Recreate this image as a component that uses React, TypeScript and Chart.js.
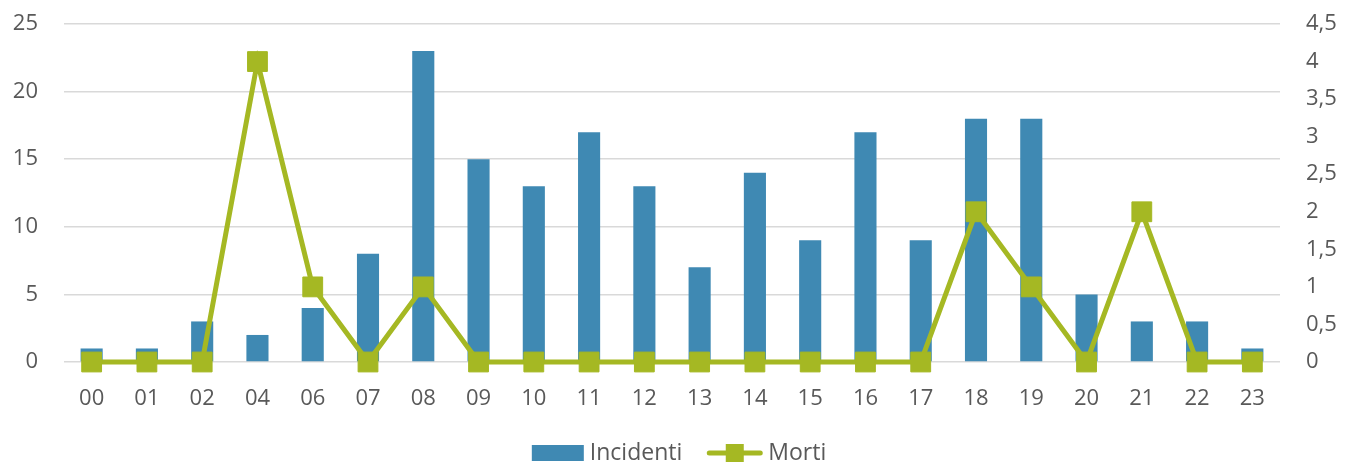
import React, { useEffect, useRef } from "react";
import { Chart, registerables } from "chart.js";

Chart.register(...registerables);

const categories = ["00", "01", "02", "04", "06", "07", "08", "09", "10", "11", "12", "13", "14", "15", "16", "17", "18", "19", "20", "21", "22", "23"];
const incidenti = [1, 1, 3, 2, 4, 8, 23, 15, 13, 17, 13, 7, 14, 9, 17, 9, 18, 18, 5, 3, 3, 1];
const morti = [0, 0, 0, 4, 1, 0, 1, 0, 0, 0, 0, 0, 0, 0, 0, 0, 2, 1, 0, 2, 0, 0];

const BLUE = "#3F89B3";
const GREEN = "#A5B823";
const TEXT = "#595959";
const FONT = "'Open Sans', sans-serif";
const FS = 22;
const LFS = 23;

const legendPlugin = {
  id: "customLegend",
  afterDraw(chart: any) {
    const ctx = chart.ctx;
    const cy = 453;
    ctx.save();
    ctx.font = `${LFS}px ${FONT}`;
    ctx.fillStyle = TEXT;
    ctx.textBaseline = "middle";
    const l0 = chart.data.datasets[0].label;
    const l1 = chart.data.datasets[1].label;
    const w0 = ctx.measureText(l0).width;
    const w1 = ctx.measureText(l1).width;
    const boxW = 52, gap = 6, sep = 25, lineW = 55;
    const total = boxW + gap + w0 + sep + lineW + gap + w1;
    let x = 679 - total / 2;
    ctx.fillStyle = BLUE;
    ctx.fillRect(x, cy - 8, boxW, 16);
    x += boxW + gap;
    ctx.fillStyle = TEXT;
    ctx.fillText(l0, x, cy);
    x += w0 + sep;
    ctx.strokeStyle = GREEN;
    ctx.lineWidth = 5;
    ctx.lineCap = "round";
    ctx.beginPath();
    ctx.moveTo(x + 2, cy);
    ctx.lineTo(x + lineW - 2, cy);
    ctx.stroke();
    ctx.fillStyle = GREEN;
    ctx.fillRect(x + lineW / 2 - 9, cy - 9, 18, 18);
    x += lineW + gap;
    ctx.fillStyle = TEXT;
    ctx.fillText(l1, x, cy);
    ctx.restore();
  },
};

export default function App() {
  const ref = useRef<HTMLCanvasElement>(null);
  useEffect(() => {
    document.body.style.margin = "0";
    const chart = new Chart(ref.current!, {
      type: "bar",
      data: {
        labels: categories,
        datasets: [
          {
            type: "bar",
            label: "Incidenti",
            data: incidenti,
            backgroundColor: BLUE,
            yAxisID: "y",
            order: 1,
            categoryPercentage: 1,
            barPercentage: 0.4,
          },
          {
            type: "line",
            label: "Morti",
            data: morti,
            borderColor: GREEN,
            backgroundColor: GREEN,
            borderWidth: 5,
            pointStyle: "rect",
            pointRadius: 14,
            pointBorderWidth: 1,
            pointBackgroundColor: GREEN,
            pointBorderColor: GREEN,
            tension: 0,
            clip: false,
            yAxisID: "y1",
            order: 0,
          } as any,
        ],
      },
      options: {
        animation: false,
        responsive: false,
        maintainAspectRatio: false,
        layout: { autoPadding: false, padding: { top: 24, bottom: 0, left: 0, right: 0 } },
        plugins: {
          legend: { display: false },
          tooltip: { enabled: false },
        },
        scales: {
          x: {
            grid: { display: false, drawTicks: false },
            border: { display: false },
            ticks: { color: TEXT, font: { family: FONT, size: FS }, padding: 24, maxRotation: 0 },
            afterFit: (s: any) => { s.height = 102; },
          },
          y: {
            position: "left",
            min: 0,
            max: 25,
            ticks: { stepSize: 5, color: TEXT, font: { family: FONT, size: FS }, padding: 26 },
            grid: { color: "#D9D9D9", lineWidth: 1.5, drawTicks: false },
            border: { display: false },
            afterFit: (s: any) => { s.width = 64; s.paddingTop = 0; s.paddingBottom = 0; },
          },
          y1: {
            position: "right",
            min: 0,
            max: 4.5,
            ticks: {
              stepSize: 0.5,
              color: TEXT,
              font: { family: FONT, size: FS },
              padding: 26,
              callback: (v: any) => String(v).replace(".", ","),
            },
            grid: { display: false, drawTicks: false },
            border: { display: false },
            afterFit: (s: any) => { s.width = 66; s.paddingTop = 0; s.paddingBottom = 0; },
          },
        },
      },
      plugins: [legendPlugin],
    });
    return () => chart.destroy();
  }, []);
  return <canvas ref={ref} width={1346} height={464} style={{ display: "block" }} />;
}
